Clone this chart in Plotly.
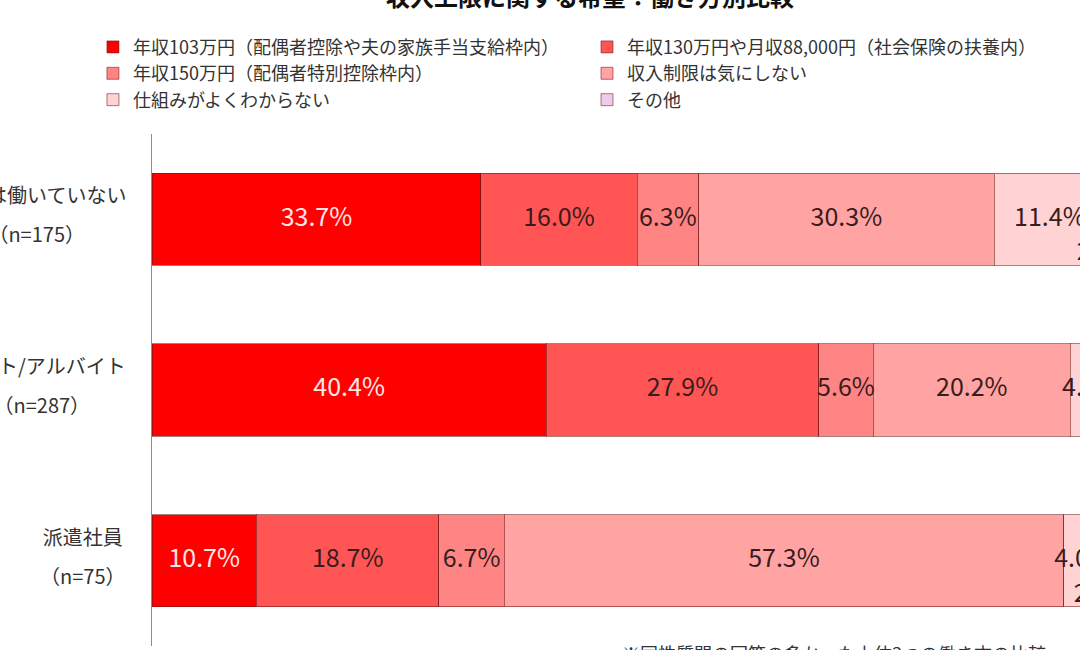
import plotly.graph_objects as go

# 働き方（上から順）
groups = ["現在は働いていない", "パート/アルバイト", "派遣社員"]
n_labels = ["（n=175）", "（n=287）", "（n=75）"]

# 回答割合（%）
nenshu_103 = [33.7, 40.4, 10.7]
nenshu_130 = [16.0, 27.9, 18.7]
nenshu_150 = [6.3, 5.6, 6.7]
ki_ni_shinai = [30.3, 20.2, 57.3]
wakaranai = [11.4, 4.2, 4.0]
sonota = [2.3, 1.7, 2.7]

series_names = [
    "年収103万円（配偶者控除や夫の家族手当支給枠内）",
    "年収130万円や月収88,000円（社会保険の扶養内）",
    "年収150万円（配偶者特別控除枠内）",
    "収入制限は気にしない",
    "仕組みがよくわからない",
    "その他",
]
series_values = [nenshu_103, nenshu_130, nenshu_150, ki_ni_shinai, wakaranai, sonota]
colors = ["#FF0000", "#FF5555", "#FF8585", "#FFA3A3", "#FFD3D3", "#EBCDEB"]
text_colors = ["#FFE6E6", "#3A1C1C", "#3A1C1C", "#3A1C1C", "#3A1C1C", "#3A1C1C"]
legend_ids = ["legend", "legend2", "legend", "legend2", "legend", "legend2"]

FONT = "Noto Sans CJK JP"
ypos = list(range(len(groups)))

fig = go.Figure()

for i, (name, vals) in enumerate(zip(series_names, series_values)):
    fig.add_trace(go.Bar(
        x=vals,
        y=ypos,
        orientation="h",
        name=name,
        width=0.54,
        marker=dict(color=colors[i], line=dict(color="rgba(110,20,20,0.55)", width=1)),
        legend=legend_ids[i],
        legendgroup=name,
        hoverinfo="x+name",
    ))

# 値ラベル（各区間の中央、その他だけは区間の左端の下に置く）
base = [0.0] * len(groups)
for i, vals in enumerate(series_values):
    last = i == len(series_values) - 1
    if last:
        xs = list(base)
    else:
        xs = [b + v / 2 for b, v in zip(base, vals)]
    base = [b + v for b, v in zip(base, vals)]
    fig.add_trace(go.Scatter(
        x=xs,
        y=ypos,
        mode="markers+text",
        marker=dict(size=34 if last else 1, opacity=0),
        text=[f"{v:.1f}%" for v in vals],
        textposition="bottom center" if last else "middle center",
        textfont=dict(family=FONT, size=25, color=text_colors[i]),
        cliponaxis=False,
        showlegend=False,
        hoverinfo="skip",
    ))

# 左側の働き方ラベル（行間を広げるため外側フォントを大きく）
for yv, g, n in zip(ypos, groups, n_labels):
    fig.add_annotation(
        x=-0.0246, xref="paper", y=yv, yref="y",
        text=f"<span style='font-size:20px'>{g}</span><br><span style='font-size:20px'>{n}</span>",
        xanchor="right", yanchor="middle", align="center",
        yshift=5, showarrow=False,
        font=dict(family=FONT, size=30, color="#333333"),
    )

# タイトル（上端で切れている）
fig.add_annotation(
    x=0.4488, xref="paper", y=1.271, yref="paper",
    text="<b>収入上限に関する希望：働き方別比較</b>",
    xanchor="center", yanchor="middle", showarrow=False,
    font=dict(family=FONT, size=24, color="#111111"),
)

# 注記（下端で切れている）
fig.add_annotation(
    x=0.4795, xref="paper", y=-0.0146, yref="paper",
    text="※同性質問の回答の多かった上位3つの働き方の比較",
    xanchor="left", yanchor="middle", showarrow=False,
    font=dict(family=FONT, size=18, color="#333333"),
)

legend_style = dict(
    yanchor="top", xanchor="left",
    traceorder="grouped", tracegroupgap=0, itemwidth=30,
    font=dict(family=FONT, size=18, color="#333333"),
    bgcolor="rgba(0,0,0,0)",
)

# 図は表示窓（1080x650）より大きく作り、右端と下端は窓で切れる
fig.update_layout(
    width=1168,
    height=700,
    barmode="stack",
    paper_bgcolor="white",
    plot_bgcolor="white",
    margin=dict(l=152, r=40, t=133.5, b=53.5, autoexpand=False),
    font=dict(family=FONT, color="#333333"),
    xaxis=dict(range=[0, 100], visible=False, fixedrange=True),
    yaxis=dict(
        range=[2.5, -0.5],
        showticklabels=False, showgrid=False, zeroline=False,
        showline=True, linecolor="#8C8C8C", linewidth=1, ticks="",
    ),
    legend=dict(x=-0.0605, y=1.2057, **legend_style),
    legend2=dict(x=0.4457, y=1.2057, **legend_style),
    showlegend=True,
)

fig.write_html(
    "out.html",
    config={"displayModeBar": False},
    post_script="document.body.style.margin='0';document.body.style.overflow='hidden';",
)
